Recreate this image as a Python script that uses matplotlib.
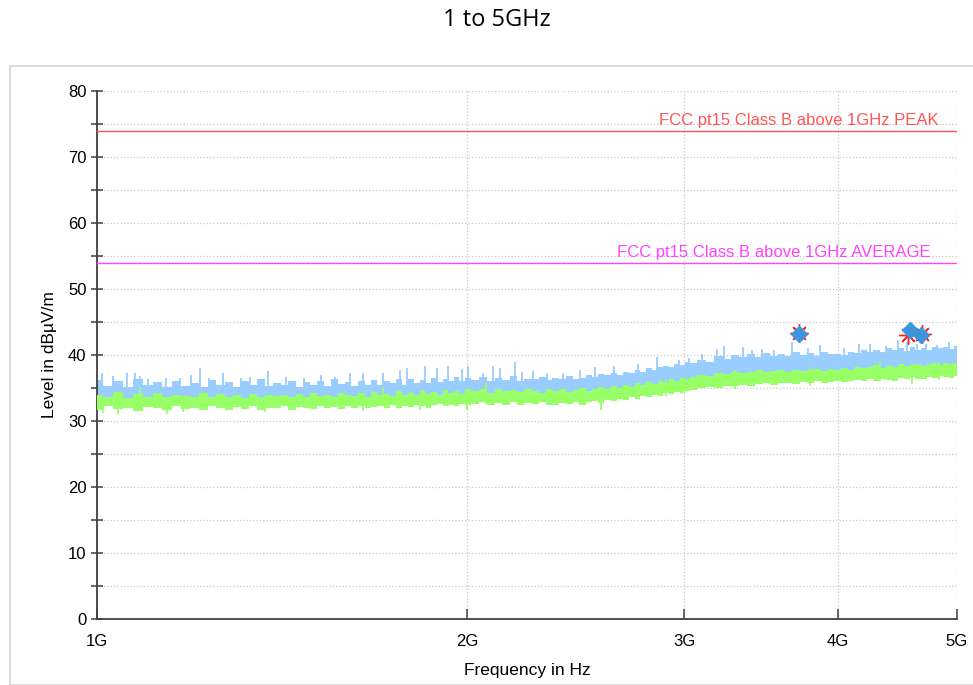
import matplotlib.pyplot as plt
from matplotlib.patches import Rectangle
from matplotlib.ticker import FixedLocator, NullLocator, MultipleLocator
import numpy as np

# sweep points in MHz
freq_mhz = [1000, 1020, 1040, 1060, 1080, 1100, 1120, 1140, 1160, 1180,
            1200, 1220, 1240, 1260, 1280, 1300, 1320, 1340, 1360, 1380,
            1400, 1420, 1440, 1460, 1480, 1500, 1520, 1540, 1560, 1580,
            1600, 1620, 1640, 1660, 1680, 1700, 1720, 1740, 1760, 1780,
            1800, 1820, 1840, 1860, 1880, 1900, 1920, 1940, 1960, 1980, 2000,
            2030, 2060, 2090, 2120, 2150, 2180, 2210, 2240, 2270, 2300,
            2330, 2360, 2390, 2420, 2450, 2480, 2510, 2540, 2570, 2600,
            2630, 2660, 2690, 2720, 2750, 2780, 2810, 2840, 2870, 2900,
            2930, 2960, 2990, 3020,
            3050, 3100, 3150, 3200, 3250, 3300, 3350, 3400, 3450, 3500,
            3550, 3600, 3650, 3700, 3750, 3800, 3850, 3900, 3950, 4000,
            4050, 4100, 4150, 4200, 4250, 4300, 4350, 4400, 4450, 4500,
            4550, 4600, 4650, 4700, 4750, 4800, 4850, 4900, 4950, 5000]

# peak trace, upper edge of the band
peak_hi = [36.2, 35.3, 36.0, 35.1, 36.3, 35.4, 35.9, 35.2, 36.1, 35.3,
           35.8, 35.2, 36.2, 35.5, 35.9, 35.1, 36.0, 35.4, 36.4, 35.3,
           35.8, 35.5, 36.1, 35.2, 35.9, 35.5, 36.0, 35.3, 36.3, 35.6,
           35.9, 35.3, 36.1, 35.5, 36.2, 35.4, 36.0, 35.7, 36.3, 35.5,
           36.4, 35.8, 36.2, 35.7, 36.5, 35.9, 36.3, 36.0, 36.6, 36.1, 36.5,
           36.2, 36.7, 36.0, 36.5, 36.2, 36.8, 36.1, 36.4, 36.3, 36.7,
           36.2, 36.5, 36.3, 36.8, 36.4, 36.5, 36.9, 36.6, 37.1, 36.9,
           37.3, 37.0, 37.5, 37.2, 37.8, 37.5, 38.0, 37.8, 38.2, 38.4,
           38.2, 38.7, 38.5, 38.9,
           38.8, 39.3, 38.9, 39.8, 39.4, 40.0, 39.7, 40.1, 39.7, 40.3,
           39.9, 40.2, 39.8, 40.5, 40.0, 40.3, 39.9, 40.5, 40.1, 40.2,
           40.0, 40.5, 40.3, 40.8, 40.5, 40.8, 40.4, 41.0, 40.7, 41.0,
           40.6, 41.2, 40.8, 41.1, 40.8, 41.2, 41.0, 41.2, 40.9, 41.3]

# average trace, upper and lower edge of the band
avg_hi = [34.0, 33.6, 34.4, 33.5, 34.1, 33.7, 34.3, 33.6, 34.0, 33.8,
          33.6, 34.2, 33.6, 34.1, 33.7, 33.9, 33.5, 34.1, 33.7, 34.0,
          33.8, 33.9, 33.6, 34.1, 33.7, 34.2, 33.8, 34.0, 33.7, 34.2,
          33.9, 33.8, 34.2, 33.7, 34.4, 33.9, 34.1, 33.8, 34.5, 34.0,
          34.2, 33.9, 34.6, 34.1, 34.4, 34.0, 34.7, 34.2, 34.5, 34.1, 34.8,
          34.5, 34.8, 34.3, 34.9, 34.5, 34.7, 34.4, 34.9, 34.6, 34.3,
          34.8, 34.5, 34.9, 34.4, 34.7, 35.0, 34.6, 34.9, 35.2, 34.8,
          35.3, 35.0, 35.5, 35.2, 35.7, 35.4, 35.9, 35.6, 36.1, 35.8,
          36.3, 36.0, 36.5, 36.4,
          36.7, 36.9, 36.8, 37.2, 37.1, 37.5, 37.3, 37.5, 37.7, 37.4,
          37.6, 37.8, 37.5, 37.8, 37.6, 37.7, 37.9, 37.6, 37.9, 37.7,
          38.0, 37.8, 38.2, 38.0, 38.2, 38.5, 38.1, 38.4, 38.2, 38.6,
          38.3, 38.5, 38.7, 38.4, 38.6, 38.8, 38.5, 38.8, 38.6, 38.8]
avg_lo = [31.6, 32.2, 31.8, 32.0, 31.5, 32.1, 31.9, 31.6, 32.2, 31.8,
          32.0, 31.7, 32.3, 31.9, 31.6, 32.1, 31.8, 32.2, 31.7, 32.0,
          31.9, 32.3, 31.7, 32.1, 32.0, 31.8, 32.2, 31.9, 32.1, 31.8,
          32.2, 32.0, 32.3, 31.9, 32.1, 32.2, 31.9, 32.4, 32.0, 32.3,
          32.1, 32.5, 32.2, 32.0, 32.4, 32.6, 32.2, 32.5, 32.3, 32.6, 32.4,
          32.6, 32.9, 32.4, 32.8, 32.5, 32.9, 32.4, 32.7, 32.6, 32.9,
          32.5, 32.4, 32.8, 32.6, 32.9, 32.5, 32.9, 33.0, 32.8, 33.2,
          33.1, 33.4, 33.2, 33.6, 33.4, 33.8, 33.6, 34.0, 33.8, 34.2,
          34.1, 34.4, 34.3, 34.6,
          34.7, 35.0, 35.1, 35.0, 35.3, 35.3, 35.5, 35.3, 35.6, 35.7,
          35.5, 35.8, 35.7, 35.6, 35.9, 35.7, 36.0, 35.7, 35.9, 36.1,
          35.9, 36.0, 36.2, 36.0, 36.3, 36.1, 36.4, 36.2, 36.1, 36.5,
          36.3, 36.6, 36.4, 36.3, 36.7, 36.5, 36.8, 36.6, 36.5, 36.8]

# tall single spikes of the peak trace (GHz, dBuV/m)
peak_spike_f = [1.009, 1.030, 1.058, 1.073, 1.084, 1.101, 1.137, 1.169, 1.193, 1.213,
                1.233, 1.267, 1.309, 1.331, 1.378, 1.425, 1.474, 1.52, 1.56, 1.605,
                1.646, 1.709, 1.763, 1.785, 1.847, 1.888, 1.930, 1.979, 2.003, 2.061,
                2.100, 2.126, 2.187, 2.214, 2.262, 2.320, 2.393, 2.47, 2.54, 2.63,
                2.75, 2.85, 2.97, 3.03, 3.10, 3.19, 3.23, 3.35, 3.41, 3.47,
                3.55, 3.67, 3.78, 3.87, 4.05, 4.16, 4.25, 4.38, 4.48, 4.55,
                4.64, 4.72, 4.82, 4.93]
peak_spike_top = [37.2, 36.8, 37.2, 37.2, 36.8, 36.4, 36.5, 36.5, 37.0, 38.0,
                  36.5, 37.2, 36.5, 36.7, 37.6, 36.7, 36.5, 36.9, 36.6, 37.2,
                  37.2, 37.2, 37.7, 38.0, 38.4, 38.0, 38.4, 37.9, 38.4, 37.2,
                  38.3, 38.0, 38.9, 37.5, 37.6, 37.2, 37.2, 37.7, 38.2, 38.3,
                  38.7, 39.7, 39.2, 39.5, 40.2, 40.9, 41.4, 41.2, 40.7, 40.9,
                  40.8, 42.0, 41.0, 41.5, 41.0, 41.7, 41.7, 41.4, 42.3, 42.0,
                  41.6, 41.7, 41.5, 42.0]

# single spikes of the average trace (GHz, low end, high end)
avg_spike_f = [1.011, 1.040, 1.084, 1.139, 1.175, 1.369, 1.646, 1.709, 1.83, 2.0,
               2.07, 2.57, 2.9, 3.3, 3.8, 4.33, 4.6, 4.83]
avg_spike_lo = [31.2, 31.0, 32.0, 31.0, 31.3, 31.3, 31.5, 32.2, 31.7, 31.7,
                32.6, 31.7, 33.8, 34.8, 35.3, 36.0, 35.6, 36.2]
avg_spike_hi = [33.5, 33.5, 35.2, 33.5, 33.5, 33.6, 33.8, 35.2, 33.8, 34.2,
                35.7, 34.6, 36.3, 37.8, 38.2, 38.9, 38.6, 38.9]

# limits
peak_limit = 74
avg_limit = 54
peak_label = 'FCC pt15 Class B above 1GHz PEAK'
avg_label = 'FCC pt15 Class B above 1GHz AVERAGE'

# final measurements (GHz, dBuV/m)
final_f = [3.72, 4.58, 4.67]
final_peak = [43.2, 43.8, 43.0]
final_avg_f = [3.72, 4.56, 4.68]
final_avg = [43.3, 43.1, 43.2]

x_ticks = [1e9, 2e9, 3e9, 4e9, 5e9]
x_tick_labels = ['1G', '2G', '3G', '4G', '5G']

freq = np.array(freq_mhz) * 1e6
spike_f = np.array(peak_spike_f) * 1e9
# spikes start on top of the green band so nothing pokes out underneath
spike_base = np.interp(spike_f, freq, avg_hi)
blue = '#99ccff'
green = '#99ff66'

fig = plt.figure(figsize=(9.73, 6.85), dpi=100)
fig.patches.append(Rectangle((10 / 973, 0), 1, (685 - 66) / 685, transform=fig.transFigure,
                             fill=False, edgecolor='#d4d4d4', linewidth=1.2))
fig.text(497 / 973, 1 - 20 / 685, '1 to 5GHz', ha='center', va='center',
         fontsize=17, family='Open Sans')

ax = fig.add_axes([97 / 973, 66 / 685, 860 / 973, 528 / 685])
ax.set_xscale('log')
ax.set_xlim(1e9, 5e9)
ax.set_ylim(0, 80)

ax.fill_between(freq, avg_lo, peak_hi, color=blue, linewidth=0, step='mid', zorder=2)
ax.vlines(spike_f, spike_base, peak_spike_top, color=blue, linewidth=1.3, zorder=2)
ax.fill_between(freq, avg_lo, avg_hi, color=green, linewidth=0, step='mid', zorder=3)
ax.vlines(np.array(avg_spike_f) * 1e9, avg_spike_lo, avg_spike_hi, color=green, linewidth=1.3, zorder=3)

ax.axhline(peak_limit, color='#ff5555', linewidth=1, zorder=4)
ax.axhline(avg_limit, color='#ff44ff', linewidth=1, zorder=4)
ax.text(4.83e9, peak_limit + 0.4, peak_label, color='#ff5555', ha='right', va='bottom',
        fontsize=12, family='Liberation Sans')
ax.text(4.76e9, avg_limit + 0.4, avg_label, color='#ff44ff', ha='right', va='bottom',
        fontsize=12, family='Liberation Sans')

ax.plot(np.array(final_avg_f) * 1e9, final_avg, linestyle='none', marker=(8, 2, 0),
        markersize=13, markeredgecolor='#ff2020', markeredgewidth=1, zorder=5)
ax.plot(np.array(final_f) * 1e9, final_peak, linestyle='none', marker='D',
        markersize=8, color='#3d95dc', zorder=6)

ax.xaxis.set_major_locator(FixedLocator(x_ticks))
ax.xaxis.set_minor_locator(NullLocator())
ax.set_xticklabels(x_tick_labels)
ax.yaxis.set_major_locator(MultipleLocator(10))
ax.yaxis.set_minor_locator(MultipleLocator(5))

ax.grid(True, which='both', axis='y', color='#c8c8c8', linestyle=':', linewidth=0.9, zorder=0)
ax.grid(True, which='major', axis='x', color='#c8c8c8', linestyle=':', linewidth=0.9, zorder=0)
ax.set_axisbelow(True)

for s in ['top', 'right']:
    ax.spines[s].set_visible(False)
for s in ['left', 'bottom']:
    ax.spines[s].set_color('#404040')
    ax.spines[s].set_linewidth(1.3)

ax.tick_params(axis='y', which='both', direction='inout', length=8, width=1.1,
               color='#404040', labelsize=12)
ax.tick_params(axis='x', which='major', direction='in', length=7, width=1.1,
               color='#404040', labelsize=12, pad=11)
for lab in ax.get_xticklabels() + ax.get_yticklabels():
    lab.set_family('Liberation Sans')

ax.set_ylabel('Level in dBµV/m', fontsize=12.5, family='Liberation Sans', labelpad=8)
ax.set_xlabel('Frequency in Hz', fontsize=12.5, family='Liberation Sans', labelpad=10)

plt.savefig('out.png', dpi=100)
